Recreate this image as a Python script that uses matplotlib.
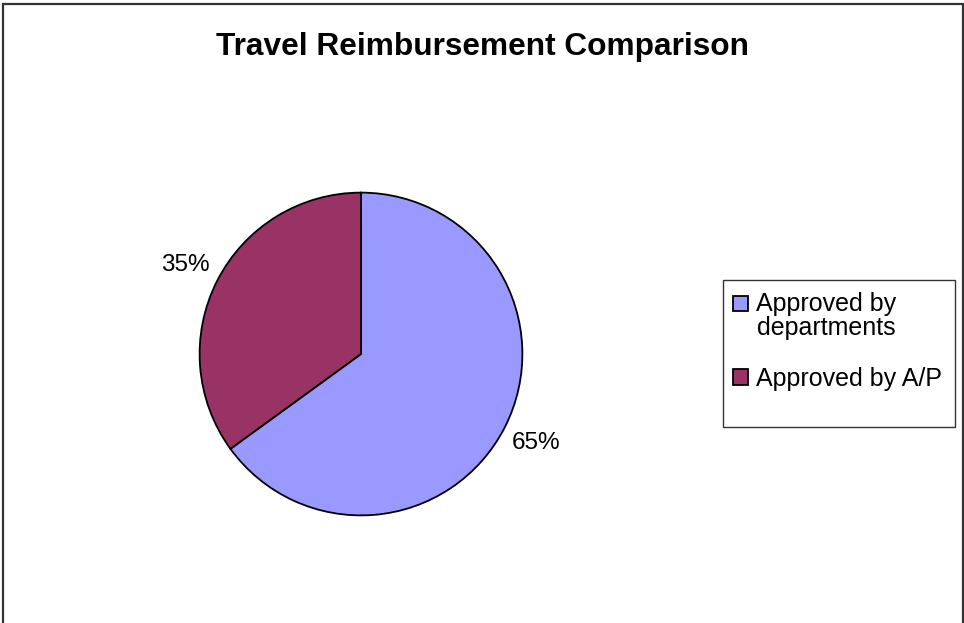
import matplotlib.pyplot as plt
from matplotlib.patches import Rectangle
from matplotlib.legend_handler import HandlerPatch

plt.rcParams['font.family'] = ['Liberation Sans', 'DejaVu Sans']

# data
labels = ['Approved by\ndepartments', 'Approved by A/P']
shares = [65, 35]
colors = ['#9999FF', '#993366']
title = 'Travel Reimbursement Comparison'

W, H = 964, 623
fig = plt.figure(figsize=(W / 100, H / 100), dpi=100)

# outer chart frame (bottom edge runs past the image)
fig.patches.append(Rectangle((2.5 / W, -0.05), 960.5 / W, 1.05 - 4 / H,
                             transform=fig.transFigure, fill=False,
                             edgecolor='#333333', linewidth=1.6))

# pie axes: centre (361, 354) px, radius 163 px
cx, cy, r = 361, 354, 163
ax = fig.add_axes([(cx - r) / W, (H - cy - r) / H, 2 * r / W, 2 * r / H])
wedges, texts, autotexts = ax.pie(
    shares, colors=colors, startangle=90, counterclock=False,
    autopct='%d%%', pctdistance=1.22,
    wedgeprops=dict(edgecolor='black', linewidth=1.3),
    textprops=dict(fontsize=17.5))
ax.set_xlim(-1.01, 1.01)
ax.set_ylim(-1.01, 1.01)
ax.set_aspect('equal')

fig.text(483 / W, 1 - 47 / H, title, ha='center', va='center',
         fontsize=22.8, fontweight='bold')

# legend box
fig.patches.append(Rectangle((723 / W, 1 - 427 / H), 232 / W, 147 / H,
                             transform=fig.transFigure, fill=False,
                             edgecolor='#333333', linewidth=1.0))

LEG_FS = 18
LEG_LS = 1.05


def square_handler(nlines):
    # put the swatch level with the first text line
    shift = (nlines - 1) * LEG_LS * LEG_FS / 2

    def make(legend, orig_handle, xdescent, ydescent, width, height, fontsize):
        return Rectangle((-xdescent, -ydescent + shift), width, height)
    return HandlerPatch(patch_func=make)


hmap = {w: square_handler(lab.count('\n') + 1) for w, lab in zip(wedges, labels)}
leg = fig.legend(wedges, labels, loc='upper left', handler_map=hmap,
                 bbox_to_anchor=(730 / W, 1 - 289 / H), frameon=False,
                 fontsize=LEG_FS, handlelength=0.6, handleheight=0.6,
                 handletextpad=0.36, labelspacing=1.05, borderpad=0.1,
                 borderaxespad=0)
for t in leg.get_texts():
    t.set_linespacing(LEG_LS)

fig.savefig('out.png', dpi=100)
